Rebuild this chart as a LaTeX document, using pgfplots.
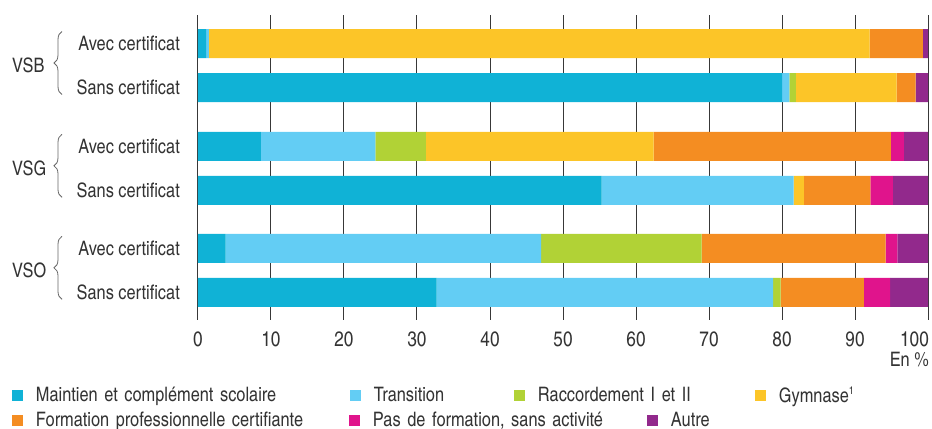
\documentclass[border=0pt]{standalone}
\usepackage{fontspec}
\setmainfont{texgyreheroscn}[Extension=.otf, UprightFont=*-regular, BoldFont=*-bold, ItalicFont=*-italic, BoldItalicFont=*-bolditalic]
\usepackage{pgfplots}
\usepackage{pgfplotstable}
\pgfplotsset{compat=1.18}
\usetikzlibrary{decorations.pathreplacing}

\definecolor{cMain}{HTML}{10B2D6}
\definecolor{cTrans}{HTML}{63CDF4}
\definecolor{cRacc}{HTML}{B1D236}
\definecolor{cGym}{HTML}{FCC528}
\definecolor{cForm}{HTML}{F48D22}
\definecolor{cPas}{HTML}{E0148C}
\definecolor{cAutre}{HTML}{92298C}
\definecolor{txt}{HTML}{333333}

\newcommand\lbl{\fontsize{20}{24}\selectfont}

% y = row position (px from top), shares in %
\pgfplotstableread{
y     m     t     r     g     f     p    a
43.5  1.1   0.4   0     90.5  7.3   0    0.7
87.5  80.0  1.0   0.9   13.8  2.6   0    1.7
146.3 8.6   15.7  6.9   31.2  32.5  1.8  3.3
190.3 55.3  26.3  0     1.4   9.1   3.1  4.8
248.3 3.8   43.2  22.0  0     25.2  1.6  4.2
292.3 32.7  46.1  1.0   0     11.4  3.6  5.2
}\data

\pgfplotsset{
  sq/.style={legend image code/.code={\fill[##1] (0bp,-5.5bp) rectangle (11bp,5.5bp);}},
}
\tikzset{
  grp/.style={anchor=west, inner sep=0pt, font=\lbl, text=txt},
  brc/.style={decorate, decoration={brace, amplitude=8bp}, black!60, line width=0.8bp},
}

\begin{document}
\begin{tikzpicture}
\useasboundingbox (-198bp,-109bp) rectangle (734bp,320bp);
\begin{axis}[
  at={(0,0)}, anchor=south west,
  scale only axis, width=730bp, height=305bp,
  xbar stacked, bar width=29,
  xmin=0, xmax=100, ymin=15, ymax=320, y dir=reverse,
  enlargelimits=false, clip=false,
  axis line style={draw=none},
  major tick length=0pt,
  xtick={0,10,...,90},
  extra x ticks={100},
  extra x tick style={xticklabel style={anchor=north east, xshift=1bp}},
  xmajorgrids, grid style={black!78, line width=1bp},
  ytick={43.5,87.5,146.3,190.3,248.3,292.3},
  yticklabels={Avec certificat,Sans certificat,Avec certificat,Sans certificat,Avec certificat,Sans certificat},
  yticklabel style={font=\lbl, text=txt, anchor=east, inner sep=0pt, xshift=-18bp},
  xticklabel style={font=\fontsize{21}{24}\selectfont, text=txt, anchor=north, inner sep=0pt, yshift=-12bp},
  /pgf/number format/assume math mode=true,
  legend columns=4,
  legend cell align=left,
  legend style={draw=none, fill=none, inner sep=0pt, outer sep=0pt, anchor=west,
    at={(axis description cs:-0.2548,-0.2459)}, font=\lbl, text=txt,
    /tikz/every odd column/.append style={column sep=11bp},
    /tikz/column 2/.style={text width=312bp},
    /tikz/column 4/.style={text width=138bp},
    /tikz/column 6/.style={text width=215bp}},
]
\addplot[draw=none, fill=cMain, sq] table[x=m, y=y] {\data};
\addplot[draw=none, fill=cTrans, sq] table[x=t, y=y] {\data};
\addplot[draw=none, fill=cRacc, sq] table[x=r, y=y] {\data};
\addplot[draw=none, fill=cGym, sq] table[x=g, y=y] {\data};
\addplot[draw=none, fill=cForm, sq] table[x=f, y=y] {\data};
\addplot[draw=none, fill=cPas, sq] table[x=p, y=y] {\data};
\addplot[draw=none, fill=cAutre, sq] table[x=a, y=y] {\data};
\legend{Maintien et complément scolaire, Transition, Raccordement I et II, Gymnase\raisebox{0.75ex}{\fontsize{11}{12}\selectfont 1}}

% group labels and braces
\node[grp] at ([xshift=-186bp]axis cs:0,65.5) {VSB};
\node[grp] at ([xshift=-186bp]axis cs:0,168.3) {VSG};
\node[grp] at ([xshift=-186bp]axis cs:0,270.3) {VSO};
\draw[brc] ([xshift=-136bp]axis cs:0,94.5) -- ([xshift=-136bp]axis cs:0,31.5);
\draw[brc] ([xshift=-136bp]axis cs:0,197.3) -- ([xshift=-136bp]axis cs:0,134.3);
\draw[brc] ([xshift=-136bp]axis cs:0,299.3) -- ([xshift=-136bp]axis cs:0,236.3);
\node[anchor=north east, inner sep=0pt, font=\lbl, text=txt] at ([xshift=1bp, yshift=-32bp]axis cs:100,320) {En \%};
\end{axis}

% second legend row
\begin{axis}[
  at={(0,0)}, anchor=south west,
  scale only axis, width=730bp, height=305bp,
  hide axis, xmin=0, xmax=1, ymin=0, ymax=1,
  legend columns=3,
  legend cell align=left,
  legend style={draw=none, fill=none, inner sep=0pt, outer sep=0pt, anchor=west,
    at={(axis description cs:-0.2548,-0.3279)}, font=\lbl, text=txt,
    /tikz/every odd column/.append style={column sep=11bp},
    /tikz/column 2/.style={text width=311bp},
    /tikz/column 4/.style={text width=272bp}},
]
\addlegendimage{draw=none, fill=cForm, sq}
\addlegendimage{draw=none, fill=cPas, sq}
\addlegendimage{draw=none, fill=cAutre, sq}
\legend{Formation professionnelle certifiante, {Pas de formation, sans activité}, Autre}
\end{axis}
\end{tikzpicture}
\end{document}
